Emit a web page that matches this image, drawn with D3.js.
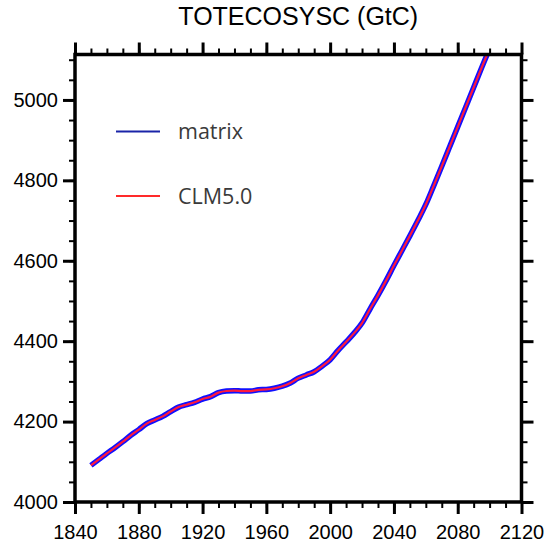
<!DOCTYPE html>
<meta charset="utf-8">
<style>
body { margin: 0; background: #fff; }
.tick text { font-family: "Liberation Sans", Arial, sans-serif; }
</style>
<script src="https://d3js.org/d3.v7.min.js"></script>
<div id="my_dataviz"></div>
<script>

// data (every 5 years)
var years = [1850,1855,1860,1865,1870,1875,1880,1885,1890,1895,
             1900,1905,1910,1915,1920,1925,1930,1935,1940,1945,
             1950,1955,1960,1965,1970,1975,1980,1985,1990,1995,
             2000,2005,2010,2015,2020,2025,2030,2035,2040,2045,
             2050,2055,2060,2065,2070,2075,2080,2085,2090,2095,2100];
var matrix = [4091,4106,4121,4135,4150,4166,4180,4195,4204,4213,
              4225,4236,4242,4248,4256,4262,4272,4276,4277,4276,
              4276,4279,4280,4283,4288,4296,4308,4316,4324,4338,
              4354,4377,4398,4420,4445,4480,4514,4550,4588,4625,
              4662,4700,4740,4787,4835,4884,4933,4982,5031,5080,5128];
var clm50 = [4091,4106,4121,4135,4150,4166,4180,4195,4204,4213,
             4225,4236,4242,4248,4256,4262,4272,4276,4277,4276,
             4276,4279,4280,4283,4288,4296,4308,4316,4324,4338,
             4354,4377,4398,4420,4445,4480,4514,4550,4588,4625,
             4662,4700,4740,4787,4835,4884,4933,4982,5031,5080,5128];
var xMajor = [1840,1880,1920,1960,2000,2040,2080,2120];
var yMajor = [4000,4200,4400,4600,4800,5000];
var xDomain = [1840, 2120];
var yDomain = [4000, 5113];
var legendNames = ["matrix", "CLM5.0"];

var W = 546, H = 547;
var margin = {top: 54.5, right: 24.5, bottom: 45, left: 75};
var width = W - margin.left - margin.right,
    height = H - margin.top - margin.bottom;

var svg = d3.select("#my_dataviz")
  .append("svg")
    .attr("width", W)
    .attr("height", H);

var g = svg.append("g")
    .attr("transform", "translate(" + margin.left + "," + margin.top + ")");

var x = d3.scaleLinear().domain(xDomain).range([0, width]);
var y = d3.scaleLinear().domain(yDomain).range([height, 0]);

var xMinor = d3.range(xDomain[0], xDomain[1] + 1, 10);
var yMinor = d3.range(yDomain[0], yDomain[1], 50);

function styleAxis(sel, major) {
  sel.select(".domain").remove();
  sel.selectAll("line").attr("stroke", "#000").attr("stroke-width", major ? 3 : 2);
}

// minor ticks
g.append("g").attr("transform", "translate(0," + height + ")")
  .call(d3.axisBottom(x).tickValues(xMinor).tickSize(6).tickFormat(""))
  .call(styleAxis, false);
g.append("g")
  .call(d3.axisTop(x).tickValues(xMinor).tickSize(6).tickFormat(""))
  .call(styleAxis, false);
g.append("g")
  .call(d3.axisLeft(y).tickValues(yMinor).tickSize(6).tickFormat(""))
  .call(styleAxis, false);
g.append("g").attr("transform", "translate(" + width + ",0)")
  .call(d3.axisRight(y).tickValues(yMinor).tickSize(6).tickFormat(""))
  .call(styleAxis, false);

// major ticks
g.append("g").attr("transform", "translate(0," + height + ")")
  .call(d3.axisBottom(x).tickValues(xMajor).tickSize(12).tickPadding(11).tickFormat(d3.format("d")))
  .call(styleAxis, true)
  .selectAll("text").attr("font-size", 20).attr("fill", "#000");
g.append("g")
  .call(d3.axisTop(x).tickValues(xMajor).tickSize(12).tickFormat(""))
  .call(styleAxis, true);
g.append("g")
  .call(d3.axisLeft(y).tickValues(yMajor).tickSize(12).tickPadding(5).tickFormat(d3.format("d")))
  .call(styleAxis, true)
  .selectAll("text").attr("font-size", 20).attr("fill", "#000");
g.append("g").attr("transform", "translate(" + width + ",0)")
  .call(d3.axisRight(y).tickValues(yMajor).tickSize(12).tickFormat(""))
  .call(styleAxis, true);

// clip so the curve stops at the frame
g.append("clipPath").attr("id", "clip")
  .append("rect").attr("width", width).attr("height", height);

var line = d3.line()
  .curve(d3.curveMonotoneX)
  .x(function(d, i) { return x(years[i]); })
  .y(function(d) { return y(d); });

g.append("path")
  .datum(matrix)
  .attr("clip-path", "url(#clip)")
  .attr("fill", "none")
  .attr("stroke", "#1010ff")
  .attr("stroke-width", 5.5)
  .attr("stroke-linejoin", "round")
  .attr("d", line);

g.append("path")
  .datum(clm50)
  .attr("clip-path", "url(#clip)")
  .attr("fill", "none")
  .attr("stroke", "#ff1a3c")
  .attr("stroke-width", 2.2)
  .attr("stroke-linejoin", "round")
  .attr("d", line);

// frame
g.append("rect")
  .attr("width", width)
  .attr("height", height)
  .attr("fill", "none")
  .attr("stroke", "#000")
  .attr("stroke-width", 3.5);

// title
svg.append("text")
  .attr("x", margin.left + width / 2)
  .attr("y", 25)
  .attr("text-anchor", "middle")
  .style("font-family", "Liberation Sans, Arial, sans-serif")
  .style("font-size", "25px")
  .text("TOTECOSYSC (GtC)");

// legend
var legendColors = ["#1a24a8", "#ff2a2a"];
var legendY = [131.5, 196];
legendNames.forEach(function(name, i) {
  svg.append("line")
    .attr("x1", 116).attr("x2", 160)
    .attr("y1", legendY[i]).attr("y2", legendY[i])
    .attr("stroke", legendColors[i])
    .attr("stroke-width", 2);
  svg.append("text")
    .attr("x", 178)
    .attr("y", legendY[i] + 7.5)
    .style("font-family", "Open Sans, sans-serif")
    .style("font-size", "21.5px")
    .attr("fill", "#3a3a3a")
    .text(name);
});
</script>
